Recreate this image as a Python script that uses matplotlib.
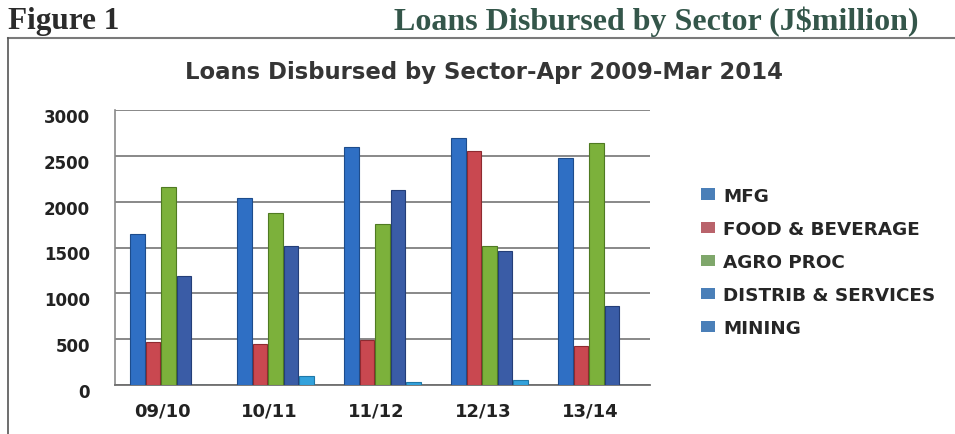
import matplotlib
matplotlib.use("Agg")
import matplotlib.pyplot as plt
import matplotlib.transforms as mtrans
import numpy as np
from matplotlib.lines import Line2D
from matplotlib.patches import Patch

categories = ["09/10", "10/11", "11/12", "12/13", "13/14"]
series_names = ["MFG", "FOOD & BEVERAGE", "AGRO PROC", "DISTRIB & SERVICES", "MINING"]
mfg = [1650, 2040, 2600, 2690, 2480]
food_bev = [465, 450, 495, 2555, 430]
agro_proc = [2165, 1880, 1760, 1515, 2645]
distrib = [1190, 1520, 2130, 1465, 865]
mining = [5, 100, 30, 60, 5]
yticks = [0, 500, 1000, 1500, 2000, 2500, 3000]

series = [mfg, food_bev, agro_proc, distrib, mining]
colors = ["#2f6fc4", "#c94850", "#7cb13b", "#3a5ca6", "#33a2dc"]
edges = ["#1d4c8c", "#8e2a30", "#4f7a22", "#243e78", "#1f78a8"]
legend_colors = ["#4a7fb8", "#b9636b", "#7fa76b", "#4a7fb8", "#4a7fb8"]

W, H = 955, 435
fig = plt.figure(figsize=(W / 100, H / 100), dpi=100)
fig.patch.set_facecolor("white")

# Header
fig.text(8 / W, 1 - 22 / H, "Figure 1", family="Liberation Serif", weight="bold",
         fontsize=22.5, color="#2b2b2b", va="center", ha="left")
fig.text(918 / W, 1 - 22 / H, "Loans Disbursed by Sector (J$million)", family="Liberation Serif",
         weight="bold", fontsize=23, color="#34564a", va="center", ha="right")
fig.add_artist(Line2D([8 / W, 1], [1 - 39 / H, 1 - 39 / H], color="#7a7a7a", lw=1.5))
fig.add_artist(Line2D([8 / W, 8 / W], [1 - 39 / H, 0], color="#555555", lw=1.2))

# Chart title
fig.text(484 / W, 1 - 72 / H, "Loans Disbursed by Sector-Apr 2009-Mar 2014", family="DejaVu Sans",
         weight="bold", fontsize=16.4, color="#353535", va="center", ha="center")

left, right, top, bottom = 115, 650, 111, 386
ax = fig.add_axes([left / W, 1 - bottom / H, (right - left) / W, (bottom - top) / H])
x = np.arange(len(categories))
bw = 0.145
for i, (vals, c, e) in enumerate(zip(series, colors, edges)):
    offs = (i - 2) * bw
    ax.bar(x + offs, vals, width=bw * 0.96, color=c, edgecolor=e, linewidth=0.8,
           label=series_names[i], zorder=3)

ax.set_ylim(0, 3000)
ax.set_xlim(-0.5, len(categories) - 0.5)
ax.set_yticks(yticks)
ax.set_yticklabels([str(v) for v in yticks], family="DejaVu Sans", weight="bold",
                   fontsize=12, color="#222222")
ax.set_xticks(x)
ax.set_xticklabels(categories, family="DejaVu Sans", weight="bold", fontsize=13, color="#222222")
ax.tick_params(axis="both", length=0)
ax.tick_params(axis="y", pad=18)
ax.tick_params(axis="x", pad=12)
yshift = mtrans.ScaledTranslation(0, -5 / 100, fig.dpi_scale_trans)
for lbl in ax.get_yticklabels():
    lbl.set_transform(lbl.get_transform() + yshift)
xshift = mtrans.ScaledTranslation(-6 / 100, 0, fig.dpi_scale_trans)
for lbl in ax.get_xticklabels():
    lbl.set_transform(lbl.get_transform() + xshift)
ax.grid(axis="y", color="#7f7f7f", lw=1.3, zorder=0)
for s in ["top", "right"]:
    ax.spines[s].set_visible(False)
ax.spines["left"].set_color("#8a8a8a")
ax.spines["left"].set_linewidth(1.2)
ax.spines["bottom"].set_color("#6f6f6f")
ax.spines["bottom"].set_linewidth(1.3)
ax.set_facecolor("white")

handles = [Patch(facecolor=c, edgecolor="none") for c in legend_colors]
leg = fig.legend(handles, series_names, loc="upper left", bbox_to_anchor=(684 / W, 1 - 171 / H),
                 frameon=False, prop={"family": "DejaVu Sans", "size": 13.2, "weight": "bold"},
                 handlelength=0.8, handleheight=0.55, handletextpad=0.45, labelspacing=0.82,
                 labelcolor="#262626")

fig.savefig("out.png", dpi=100, facecolor="white")
